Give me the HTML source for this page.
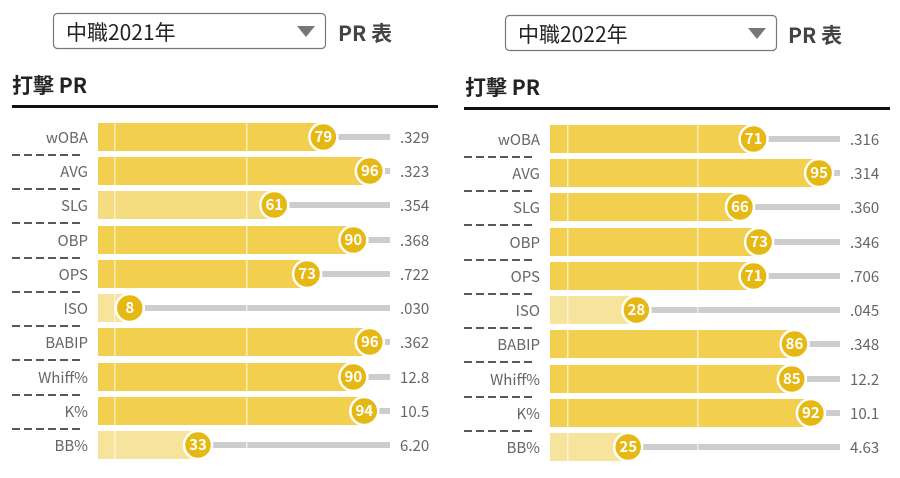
<!DOCTYPE html>
<html><head><meta charset="utf-8"><style>
body{margin:0;background:#fff;width:900px;height:473px;overflow:hidden;font-family:"Noto Sans CJK TC","Liberation Sans",sans-serif}
</style></head><body>
<svg width="900" height="473" viewBox="0 0 900 473" xmlns="http://www.w3.org/2000/svg" font-family="Noto Sans CJK TC, Liberation Sans, sans-serif">
<defs>
<g id="dash"><line x1="12" y1="0" x2="84" y2="0" stroke="#222" stroke-width="1.6" stroke-dasharray="8,4"/></g>
</defs>
<!-- headers -->
<rect x="53.5" y="13.5" width="272" height="35" rx="4" fill="#fff" stroke="#777" stroke-width="1.2"/>
<text x="66" y="40" font-size="21" fill="#222">中職2021年</text>
<polygon points="297,26 315,26 306,37" fill="#777"/>
<text x="338" y="41" font-size="21" font-weight="bold" fill="#444">PR 表</text>
<text x="12" y="93" font-size="21" font-weight="bold" fill="#222">打擊 PR</text>
<rect x="12" y="105" width="426" height="3" fill="#111"/>

<rect x="505.5" y="15.5" width="271" height="35" rx="4" fill="#fff" stroke="#777" stroke-width="1.2"/>
<text x="518" y="42" font-size="21" fill="#222">中職2022年</text>
<polygon points="748,28 766,28 757,39" fill="#777"/>
<text x="788" y="43" font-size="21" font-weight="bold" fill="#444">PR 表</text>
<text x="465" y="95" font-size="21" font-weight="bold" fill="#222">打擊 PR</text>
<rect x="464" y="107" width="426" height="3" fill="#111"/>

<g font-size="15" fill="#666">
<g text-anchor="end">
<text x="88" y="143">wOBA</text><text x="88" y="177">AVG</text><text x="88" y="211">SLG</text><text x="88" y="246">OBP</text><text x="88" y="280">OPS</text><text x="88" y="314">ISO</text><text x="88" y="348">BABIP</text><text x="88" y="383">Whiff%</text><text x="88" y="417">K%</text><text x="88" y="451">BB%</text>
<text x="540" y="145">wOBA</text><text x="540" y="179">AVG</text><text x="540" y="213">SLG</text><text x="540" y="248">OBP</text><text x="540" y="282">OPS</text><text x="540" y="316">ISO</text><text x="540" y="350">BABIP</text><text x="540" y="385">Whiff%</text><text x="540" y="419">K%</text><text x="540" y="453">BB%</text>
</g>
<g>
<text x="400" y="143">.329</text><text x="400" y="177">.323</text><text x="400" y="211">.354</text><text x="400" y="246">.368</text><text x="400" y="280">.722</text><text x="400" y="314">.030</text><text x="400" y="348">.362</text><text x="400" y="383">12.8</text><text x="400" y="417">10.5</text><text x="400" y="451">6.20</text>
<text x="850" y="145">.316</text><text x="850" y="179">.314</text><text x="850" y="213">.360</text><text x="850" y="248">.346</text><text x="850" y="282">.706</text><text x="850" y="316">.045</text><text x="850" y="350">.348</text><text x="850" y="385">12.2</text><text x="850" y="419">10.1</text><text x="850" y="453">4.63</text>
</g>
</g>

<use href="#dash" y="155"/><use href="#dash" y="189"/><use href="#dash" y="223"/><use href="#dash" y="258"/><use href="#dash" y="292"/><use href="#dash" y="326"/><use href="#dash" y="360"/><use href="#dash" y="395"/><use href="#dash" y="429"/>
<g transform="translate(452,2)">
<use href="#dash" y="155"/><use href="#dash" y="189"/><use href="#dash" y="223"/><use href="#dash" y="258"/><use href="#dash" y="292"/><use href="#dash" y="326"/><use href="#dash" y="360"/><use href="#dash" y="395"/><use href="#dash" y="429"/>
</g>

<g>
<g fill="#cdcdcd">
<rect x="323" y="134" width="67" height="6"/><rect x="370" y="168" width="20" height="6"/><rect x="274" y="202" width="116" height="6"/><rect x="353" y="237" width="37" height="6"/><rect x="307" y="271" width="83" height="6"/><rect x="130" y="305" width="260" height="6"/><rect x="370" y="339" width="20" height="6"/><rect x="353" y="374" width="37" height="6"/><rect x="364" y="408" width="26" height="6"/><rect x="198" y="442" width="192" height="6"/>
</g>
<rect x="98" y="123" width="225.4" height="28" fill="#f2cf4e"/>
<rect x="98" y="157" width="271.8" height="28" fill="#f2cf4e"/>
<rect x="98" y="191" width="176.3" height="28" fill="#f5dc80"/>
<rect x="98" y="226" width="255.4" height="28" fill="#f2cf4e"/>
<rect x="98" y="260" width="209.1" height="28" fill="#f2cf4e"/>
<rect x="98" y="294" width="31.8" height="28" fill="#f7e49c"/>
<rect x="98" y="328" width="271.8" height="28" fill="#f2cf4e"/>
<rect x="98" y="363" width="255.4" height="28" fill="#f2cf4e"/>
<rect x="98" y="397" width="266.3" height="28" fill="#f2cf4e"/>
<rect x="98" y="431" width="100" height="28" fill="#f7e49c"/>
<g fill="#fff" opacity="0.6"><rect x="114" y="120" width="1.5" height="342"/><rect x="246" y="120" width="1.5" height="342"/></g>
<g fill="#e6b814" stroke="#fff" stroke-width="2.5">
<circle cx="323.4" cy="137" r="14"/><circle cx="369.8" cy="171" r="14"/><circle cx="274.3" cy="205" r="14"/><circle cx="353.4" cy="240" r="14"/><circle cx="307.1" cy="274" r="14"/><circle cx="129.8" cy="308" r="14"/><circle cx="369.8" cy="342" r="14"/><circle cx="353.4" cy="377" r="14"/><circle cx="364.3" cy="411" r="14"/><circle cx="198" cy="445" r="14"/>
</g>
<g fill="#fff" font-size="15" font-weight="bold" text-anchor="middle">
<text x="323.4" y="142">79</text><text x="369.8" y="176">96</text><text x="274.3" y="210">61</text><text x="353.4" y="245">90</text><text x="307.1" y="279">73</text><text x="129.8" y="313">8</text><text x="369.8" y="347">96</text><text x="353.4" y="382">90</text><text x="364.3" y="416">94</text><text x="198" y="450">33</text>
</g>
</g>

<g transform="translate(0,2)">
<g fill="#cdcdcd">
<rect x="754" y="134" width="86" height="6"/><rect x="819" y="168" width="21" height="6"/><rect x="740" y="202" width="100" height="6"/><rect x="759" y="237" width="81" height="6"/><rect x="754" y="271" width="86" height="6"/><rect x="636" y="305" width="204" height="6"/><rect x="794" y="339" width="46" height="6"/><rect x="792" y="374" width="48" height="6"/><rect x="811" y="408" width="29" height="6"/><rect x="628" y="442" width="212" height="6"/>
</g>
<rect x="550" y="123" width="203.6" height="28" fill="#f2cf4e"/>
<rect x="550" y="157" width="269.1" height="28" fill="#f2cf4e"/>
<rect x="550" y="191" width="190" height="28" fill="#f2cf4e"/>
<rect x="550" y="226" width="209.1" height="28" fill="#f2cf4e"/>
<rect x="550" y="260" width="203.6" height="28" fill="#f2cf4e"/>
<rect x="550" y="294" width="86.4" height="28" fill="#f7e49c"/>
<rect x="550" y="328" width="244.5" height="28" fill="#f2cf4e"/>
<rect x="550" y="363" width="241.8" height="28" fill="#f2cf4e"/>
<rect x="550" y="397" width="260.9" height="28" fill="#f2cf4e"/>
<rect x="550" y="431" width="78.2" height="28" fill="#f7e49c"/>
<g fill="#fff" opacity="0.6"><rect x="567" y="120" width="1.5" height="342"/><rect x="697" y="120" width="1.5" height="342"/></g>
<g fill="#e6b814" stroke="#fff" stroke-width="2.5">
<circle cx="753.6" cy="137" r="14"/><circle cx="819.1" cy="171" r="14"/><circle cx="740" cy="205" r="14"/><circle cx="759.1" cy="240" r="14"/><circle cx="753.6" cy="274" r="14"/><circle cx="636.4" cy="308" r="14"/><circle cx="794.5" cy="342" r="14"/><circle cx="791.8" cy="377" r="14"/><circle cx="810.9" cy="411" r="14"/><circle cx="628.2" cy="445" r="14"/>
</g>
<g fill="#fff" font-size="15" font-weight="bold" text-anchor="middle">
<text x="753.6" y="142">71</text><text x="819.1" y="176">95</text><text x="740" y="210">66</text><text x="759.1" y="245">73</text><text x="753.6" y="279">71</text><text x="636.4" y="313">28</text><text x="794.5" y="347">86</text><text x="791.8" y="382">85</text><text x="810.9" y="416">92</text><text x="628.2" y="450">25</text>
</g>
</g>
</svg>
</body></html>
